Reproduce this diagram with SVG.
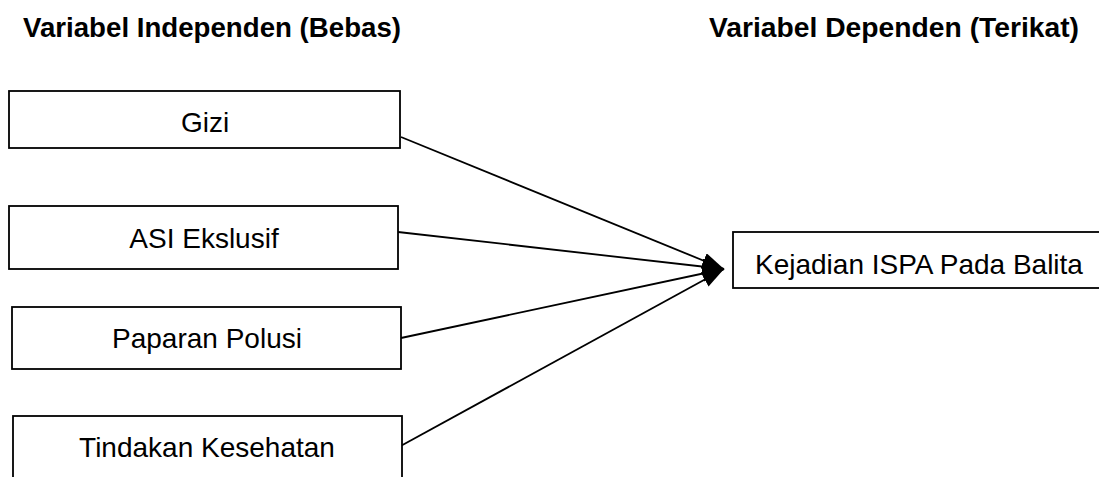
<svg xmlns="http://www.w3.org/2000/svg" width="1099" height="477" viewBox="0 0 1099 477">
<defs>
<style>
.box{fill:#fff;stroke:#000;stroke-width:1.8}
.lbl{font-family:"Liberation Sans",Arial,sans-serif;font-size:28px;fill:#000}
.hdr{font-family:"Liberation Sans",Arial,sans-serif;font-size:28px;font-weight:bold;fill:#000}
.conn{stroke:#000;stroke-width:1.8;fill:none}
</style>
<marker id="arr" markerUnits="userSpaceOnUse" markerWidth="24" markerHeight="18" refX="22" refY="8" orient="auto">
<path d="M0,0 L22,8 L0,16 Z" fill="#000"/>
</marker>
</defs>
<rect width="1099" height="477" fill="#fff"/>
<text class="hdr" x="23" y="37" textLength="378" lengthAdjust="spacingAndGlyphs">Variabel Independen (Bebas)</text>
<text class="hdr" x="709" y="37" textLength="370" lengthAdjust="spacingAndGlyphs">Variabel Dependen (Terikat)</text>
<g id="connectors">
<line class="conn" x1="401" y1="137" x2="724" y2="269" marker-end="url(#arr)"/>
<line class="conn" x1="398" y1="232" x2="724" y2="269" marker-end="url(#arr)"/>
<line class="conn" x1="401" y1="338" x2="724" y2="269" marker-end="url(#arr)"/>
<line class="conn" x1="397" y1="448" x2="724" y2="269" marker-end="url(#arr)"/>
</g>
<g id="gizi">
<rect class="box" x="9" y="91" width="391" height="57"/>
<text class="lbl" x="205" y="132" text-anchor="middle">Gizi</text>
</g>
<g id="asi">
<rect class="box" x="9" y="206" width="389" height="63"/>
<text class="lbl" x="204" y="248" text-anchor="middle">ASI Ekslusif</text>
</g>
<g id="polusi">
<rect class="box" x="12" y="307" width="389" height="62"/>
<text class="lbl" x="207" y="348" text-anchor="middle">Paparan Polusi</text>
</g>
<g id="tindakan">
<rect class="box" x="13" y="416" width="389" height="80"/>
<text class="lbl" x="207" y="457" text-anchor="middle">Tindakan Kesehatan</text>
</g>
<g id="ispa">
<rect class="box" x="733" y="232" width="380" height="56"/>
<text class="lbl" x="755" y="274">Kejadian ISPA Pada Balita</text>
</g>
</svg>
